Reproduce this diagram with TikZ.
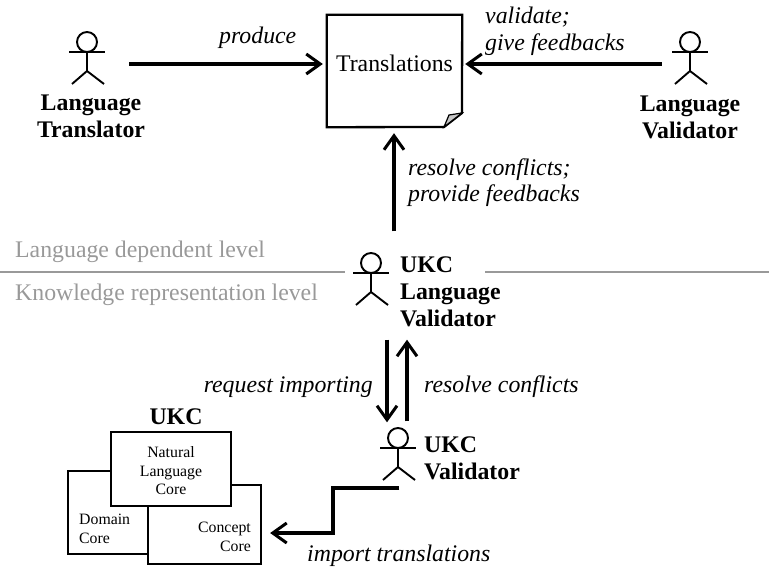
\documentclass[tikz,border=0pt]{standalone}
\usepackage{fontspec}
\setmainfont{Liberation Serif}
\usetikzlibrary{arrows.meta}
\definecolor{levelgray}{gray}{0.6}
\definecolor{foldgray}{gray}{0.78}
\tikzset{
  arr/.style={line width=3.1pt,-{Straight Barb[length=14pt,width=20pt,line width=3pt]}},
  stick/.style={line width=1.9pt},
  boxline/.style={line width=2.3pt,draw=black,fill=white},
  anchorbox/.style={inner sep=0pt,minimum width=#1,minimum height=1pt},
  lab/.style={inner sep=0pt,font=\fontsize{23.8}{27}\selectfont,align=left},
  it/.style={lab,font=\fontsize{23.8}{27}\selectfont\itshape},
  bf/.style={lab,font=\fontsize{23.8}{27}\selectfont\bfseries},
  gr/.style={lab,text=levelgray},
  small/.style={inner sep=0pt,font=\fontsize{15.8}{18.5}\selectfont},
  level/.style={line width=1.3pt,draw=levelgray}
}
\newcommand{\stickman}[2]{%
  \draw[stick] (#1,#2-10) circle (10);
  \draw[stick] (#1-18,#2) -- (#1+18,#2);
  \draw[stick] (#1,#2) -- (#1,#2+19) -- (#1-15,#2+32);
  \draw[stick] (#1,#2+19) -- (#1+17,#2+32);
}
\begin{document}
\begin{tikzpicture}[x=1pt,y=-1pt]
\useasboundingbox (0,0) rectangle (769,567);

% level separators
\coordinate (sepLa) at (0,272);
\coordinate (sepLb) at (345,272);
\coordinate (sepRa) at (485,272);
\coordinate (sepRb) at (769,272);
\draw[level] (sepLa) -- (sepLb);
\draw[level] (sepRa) -- (sepRb);
\node[gr,anchor=base west] (dep) at (15,257) {Language dependent level};
\node[gr,anchor=base west] (know) at (15,300) {Knowledge representation level};

% translations document
\node[inner sep=0pt,minimum width=135pt,minimum height=112pt] (doc) at (394.5,71) {};
\draw[boxline] (doc.north west) -- (doc.north east) -- (462,113) -- (444,127) -- (doc.south west) -- cycle;
\draw[line width=1.2pt,fill=foldgray] (444,127) -- (462,113) -- (449,115) -- cycle;
\node[lab,anchor=base] (doclabel) at (394.5,72) {Translations};

% actors
\stickman{87}{52}
\stickman{690}{52}
\stickman{371}{273}
\stickman{398}{448}
\node[anchorbox=84pt] (translator) at (87,64) {};
\node[anchorbox=56pt] (validator) at (690,64) {};
\node[inner sep=0pt,minimum width=1pt,minimum height=1pt] (ulvtop) at (394,232) {};
\node[inner sep=0pt,minimum width=1pt,minimum height=1pt] (ulvin) at (387,339) {};
\node[inner sep=0pt,minimum width=1pt,minimum height=1pt] (ulvout) at (407,339) {};
\node[inner sep=0pt,minimum width=1pt,minimum height=1pt] (uvin) at (387,423) {};
\node[inner sep=0pt,minimum width=1pt,minimum height=1pt] (uvout) at (407,422) {};
\node[inner sep=0pt,minimum width=1pt,minimum height=1pt] (uvfoot) at (400,488) {};

% actor labels
\node[bf,align=center,anchor=base] (ltlabel) at (91,138) {Language\\Translator};
\node[bf,align=center,anchor=base] (lvlabel) at (690,139) {Language\\Validator};
\node[bf,anchor=base west] (ulvlabel) at (400,326) {UKC\\Language\\Validator};
\node[bf,anchor=base west] (uvlabel) at (424,479) {UKC\\Validator};

% UKC cores
\node[boxline,rectangle,inner sep=0pt,minimum width=85pt,minimum height=83pt] (domain) at (110.5,512.5) {};
\node[boxline,rectangle,inner sep=0pt,minimum width=113pt,minimum height=79pt] (concept) at (204.5,524.5) {};
\node[boxline,rectangle,inner sep=0pt,minimum width=120pt,minimum height=74pt] (natural) at (171,469) {};
\node[bf,anchor=base] (ukctitle) at (176,424) {UKC};
\node[small,align=center,anchor=base] (naturallabel) at (171,494.5) {Natural\\Language\\Core};
\node[small,align=left,anchor=base west] (domainlabel) at (79,543) {Domain\\Core};
\node[small,align=right,anchor=base east] (conceptlabel) at (251,551) {Concept\\Core};

% connectors
\draw[arr] (translator.east) -- ([xshift=-4pt]translator.east -| doc.west);
\draw[arr] (validator.west) -- ([xshift=3pt]validator.west -| doc.east);
\draw[arr] (ulvtop) -- ([yshift=-6pt]ulvtop |- doc.south);
\draw[arr] (ulvin) -- (uvin);
\draw[arr] (uvout) -- (ulvout);
\draw[arr] (uvfoot) -- (333,488) -- (333,533) -- ([xshift=8pt]concept.east |- 0,533);

% connector labels
\node[it,anchor=base west] (produce) at (219,44) {produce};
\node[it,anchor=base west] (validate) at (485,51) {validate;\\give feedbacks};
\node[it,anchor=base west] (resolve) at (408,202) {resolve conflicts;\\provide feedbacks};
\node[it,anchor=base east] (request) at (373,392) {request importing};
\node[it,anchor=base west] (resolve2) at (424,392) {resolve conflicts};
\node[it,anchor=base west] (import) at (307,561.5) {import translations};
\end{tikzpicture}
\end{document}
